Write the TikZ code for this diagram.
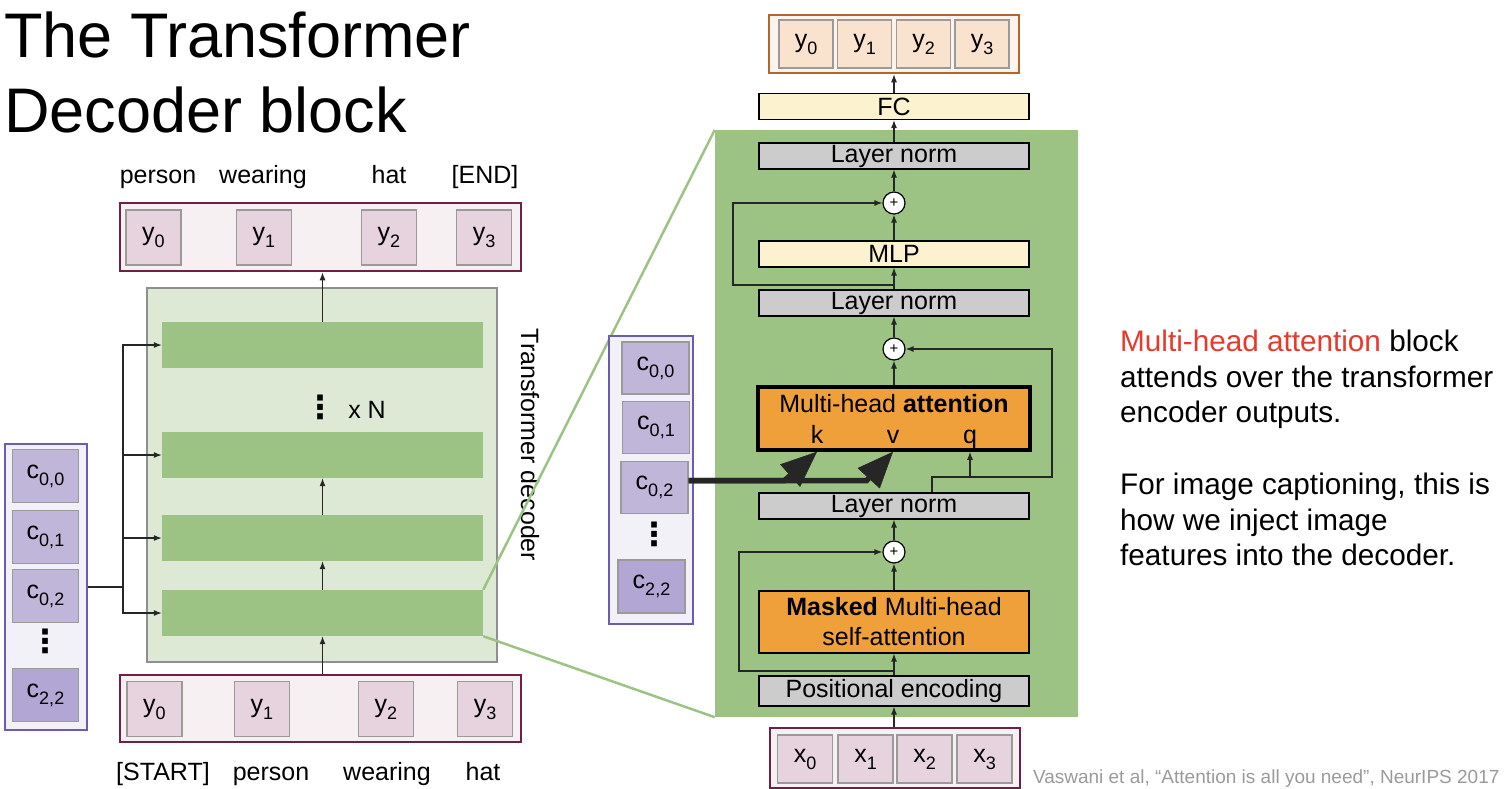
\documentclass[tikz,border=0pt]{standalone}
\usepackage{fontspec}
\setmainfont{Liberation Sans}
\newfontfamily\symfont{DejaVu Sans}
\usepackage{tikz}
\usetikzlibrary{positioning, arrows.meta, calc}

\definecolor{seqline}{HTML}{6E2146}
\definecolor{seqbg}{HTML}{F6F0F3}
\definecolor{seqtok}{HTML}{E6D3DD}
\definecolor{tokline}{HTML}{9A9A9A}
\definecolor{outframe}{HTML}{B4652C}
\definecolor{outbg}{HTML}{FCF4EC}
\definecolor{outtok}{HTML}{F9E3CF}
\definecolor{encline}{HTML}{6C5BB0}
\definecolor{encbg}{HTML}{F3F1F8}
\definecolor{enctok}{HTML}{C0B6DA}
\definecolor{enctokdark}{HTML}{B1A6D4}
\definecolor{decbg}{HTML}{DDE9D5}
\definecolor{decline}{HTML}{8F8F8F}
\definecolor{bargreen}{HTML}{9DC384}
\definecolor{mhaorange}{HTML}{F0A03A}
\definecolor{lngray}{HTML}{CCCCCC}
\definecolor{ffncream}{HTML}{FDF2D0}
\definecolor{hlred}{HTML}{E8392B}
\definecolor{citegray}{HTML}{9A9A9A}

\newcommand{\pxfont}[1]{\fontsize{#1}{#1}\selectfont}
\newcommand{\tsub}[1]{\raisebox{-7pt}{\pxfont{18}#1}}
\newcommand{\tallvdots}{{\symfont\bfseries\pxfont{32}⋮}}

\begin{document}
\begin{tikzpicture}[
        x=1pt, y=-1pt,
        every node/.style={font=\pxfont{25}},
        word/.style={anchor=base, font=\pxfont{25}},
        tok/.style={rectangle, draw=tokline, fill=seqtok, line width=1.2pt, minimum width=55pt, minimum height=55pt, inner sep=0pt},
        otok/.style={tok, fill=outtok, minimum width=54pt, minimum height=48pt},
        xtok/.style={tok, minimum height=48pt},
        ctok/.style={tok, fill=enctok, minimum width=66pt, minimum height=53pt},
        seqbox/.style={rectangle, draw=seqline, fill=seqbg, line width=2.5pt, inner sep=0pt},
        encbox/.style={rectangle, draw=encline, fill=encbg, line width=2.5pt, inner sep=0pt},
        bar/.style={rectangle, fill=bargreen, minimum width=321pt, minimum height=46pt, inner sep=0pt},
        layer/.style={rectangle, draw=black, line width=1.2pt, minimum width=270pt, minimum height=26pt, inner sep=0pt},
        norm/.style={layer, fill=lngray},
        ffn/.style={layer, fill=ffncream},
        attn/.style={layer, fill=mhaorange},
        plus/.style={circle, draw=black, fill=white, line width=1.2pt, minimum size=22pt, inner sep=0pt, font=\pxfont{15}},
        arr/.style={draw=black!85, line width=1.1pt, -{Latex[length=8pt,width=6pt]}},
        fat/.style={draw=black!85, line width=5.5pt, -{Triangle[length=36pt,width=30pt,line width=0.5pt]}},
        zoomline/.style={draw=bargreen, line width=2.5pt},
    ]
    \useasboundingbox (0,0) rectangle (1510,788);

    % Title
    \node[anchor=north west, align=left, inner sep=0pt, font=\fontsize{63}{75}\selectfont] (title) at (4,12) {The Transformer\\Decoder block};

    % Left: output words and tokens
    \node[word] (wperson) at (158,183) {person}; \node[word] (wwearing) at (263,183) {wearing};
    \node[word] (what) at (389,183) {hat}; \node[word] (wend) at (485,183) {[END]};
    \node[seqbox, minimum width=401pt, minimum height=68pt] (ytop) at (320.5,237) {};
    \node[tok] (yt0) at (153.5,237.5) {y\tsub{0}}; \node[tok] (yt1) at (264,237.5) {y\tsub{1}};
    \node[tok] (yt2) at (389,237.5) {y\tsub{2}}; \node[tok] (yt3) at (484,237.5) {y\tsub{3}};

    % Left: decoder stack
    \node[rectangle, draw=decline, fill=decbg, line width=1.2pt, minimum width=350pt, minimum height=374pt] (dec) at (322,475) {};
    \node[bar] (bar1) at (322.5,345) {}; \node[bar] (bar2) at (322.5,455) {};
    \node[bar] (bar3) at (322.5,538) {}; \node[bar] (bar4) at (322.5,613) {};
    \node (xn) at (345,407) {\tallvdots\hspace{12pt}x N};
    \node[rotate=-90] (declbl) at (530,445) {Transformer decoder};

    % Left: input tokens and words
    \node[seqbox, minimum width=401pt, minimum height=67pt] (ybot) at (320.5,708.5) {};
    \node[tok] (yb0) at (154.5,709) {y\tsub{0}}; \node[tok] (yb1) at (262,709) {y\tsub{1}};
    \node[tok] (yb2) at (386,709) {y\tsub{2}}; \node[tok] (yb3) at (485,709) {y\tsub{3}};
    \node[word] (wstart) at (163,780) {[START]}; \node[word] (wperson2) at (271,780) {person};
    \node[word] (wwearing2) at (387,780) {wearing}; \node[word] (what2) at (483,780) {hat};

    % Left: encoder outputs
    \node[encbox, minimum width=82pt, minimum height=286pt] (encl) at (46,587) {};
    \node[ctok] (c00l) at (45.5,476) {c\tsub{0,0}}; \node[ctok] (c01l) at (45.5,537) {c\tsub{0,1}};
    \node[ctok] (c02l) at (45.5,596) {c\tsub{0,2}}; \node[inner sep=0pt] (dotsl) at (45.5,641) {\tallvdots};
    \node[ctok, fill=enctokdark] (c22l) at (45.5,695) {c\tsub{2,2}};

    \coordinate (split) at (123,587);
    \draw[draw=black!85, line width=1.1pt] (encl.east) -- (split);
    \foreach \b in {bar1,bar2,bar3,bar4}
        \draw[arr] (split) |- (\b.west);
    \draw[arr] (bar4.south |- ybot.north) -- (bar4.south);
    \draw[arr] (bar4.north) -- (bar3.south);
    \draw[arr] (bar3.north) -- (bar2.south);
    \draw[arr] (bar1.north) -- (bar1.north |- ytop.south);

    % Right: zoomed decoder block
    \node[rectangle, fill=bargreen, minimum width=363pt, minimum height=587pt] (panel) at (896.5,423.5) {};
    \draw[zoomline] (bar4.north east) -- (panel.north west);
    \draw[zoomline] (bar4.south east) -- (panel.south west);

    \node[draw=outframe, fill=outbg, line width=2.5pt, minimum width=250pt, minimum height=58pt] (ytopr) at (894,44) {};
    \node[otok] (o0) at (806,44) {y\tsub{0}}; \node[otok] (o1) at (864.5,44) {y\tsub{1}};
    \node[otok] (o2) at (923.5,44) {y\tsub{2}}; \node[otok] (o3) at (982,44) {y\tsub{3}};

    \node[ffn] (fc) at (894,106.5) {FC};
    \node[norm] (ln1) at (894,156) {Layer norm};
    \node[plus] (add1) at (894,203) {+};
    \node[ffn] (mlp) at (894,254) {MLP};
    \node[norm] (ln2) at (894,303) {Layer norm};
    \node[plus] (add2) at (894,349) {+};
    \node[attn, line width=3.5pt, minimum width=272pt, minimum height=63pt] (mha) at (894,418.5) {};
    \node[anchor=base] (mhalbl) at (894,412) {Multi-head \textbf{attention}};
    \node[anchor=base] (kk) at (817,443) {k}; \node[anchor=base] (vv) at (893,443) {v};
    \node[anchor=base] (qq) at (970,443) {q};
    \node[norm] (ln3) at (894,506) {Layer norm};
    \node[plus] (add3) at (894,552) {+};
    \node[attn, minimum height=62pt, align=center, font=\fontsize{25}{30}\selectfont] (msa) at (894,622) {\textbf{Masked} Multi-head\\self-attention};
    \node[norm, minimum height=30pt] (pe) at (894,691) {Positional encoding};

    \node[seqbox, minimum width=250pt, minimum height=60pt] (xbox) at (895,758) {};
    \node[xtok] (x0) at (805,759) {x\tsub{0}}; \node[xtok] (x1) at (865.5,759) {x\tsub{1}};
    \node[xtok] (x2) at (924.5,759) {x\tsub{2}}; \node[xtok] (x3) at (984.5,759) {x\tsub{3}};

    % Right: encoder outputs
    \node[encbox, minimum width=84pt, minimum height=288pt] (encr) at (651,480) {};
    \node[ctok, minimum width=67pt, minimum height=52pt] (c00r) at (655.5,368) {c\tsub{0,0}};
    \node[ctok, minimum width=67pt, minimum height=52pt] (c01r) at (656,427.5) {c\tsub{0,1}};
    \node[ctok, minimum width=67pt, minimum height=52pt] (c02r) at (654.5,487.5) {c\tsub{0,2}};
    \node[inner sep=0pt] (dotsr) at (654,534) {\tallvdots};
    \node[ctok, fill=enctokdark, minimum width=67pt, minimum height=53pt] (c22r) at (651.5,586.5) {c\tsub{2,2}};

    % Right: connectors
    \draw[arr] (xbox.north -| pe.south) -- (pe.south);
    \draw[arr] (pe.north) -- (msa.south);
    \coordinate (res3) at (894,671);
    \draw[arr] (res3) -- ++(-155,0) |- (add3.west);
    \draw[arr] (msa.north) -- (add3.south);
    \draw[arr] (add3.north) -- (ln3.south);
    \coordinate (qtap) at (932,477);
    \draw[arr] (qtap |- ln3.north) -- (qtap) -- ++(120,0) |- (add2.east);
    \draw[arr] (qtap -| qq) -- (qq |- mha.south);
    \draw[fat] ([yshift=7pt]c02r.east) -- ++(96,0) -- (kk |- mha.south);
    \draw[fat] ([yshift=7pt]c02r.east) -- ++(178,0) -- (vv |- mha.south);
    \draw[arr] (mha.north) -- (add2.south);
    \draw[arr] (add2.north) -- (ln2.south);
    \coordinate (res1) at (894,285);
    \draw[arr] (res1) -- ++(-161,0) |- (add1.west);
    \draw[arr] (ln2.north) -- (mlp.south);
    \draw[arr] (mlp.north) -- (add1.south);
    \draw[arr] (add1.north) -- (ln1.south);
    \draw[arr] (ln1.north) -- (fc.south);
    \draw[arr] (fc.north) -- (ytopr.south);

    % Notes
    \node[anchor=north west, align=left, inner sep=0pt, font=\fontsize{29.7}{35.5}\selectfont] (note1) at (1120,330) {\textcolor{hlred}{Multi-head attention} block\\attends over the transformer\\encoder outputs.};
    \node[anchor=north west, align=left, inner sep=0pt, font=\fontsize{29.7}{35.5}\selectfont] (note2) at (1120,473) {For image captioning, this is\\how we inject image\\features into the decoder.};
    \node[anchor=base east, text=citegray, font=\pxfont{19}] (cite) at (1503,783) {Vaswani et al, “Attention is all you need”, NeurIPS 2017};
\end{tikzpicture}
\end{document}
